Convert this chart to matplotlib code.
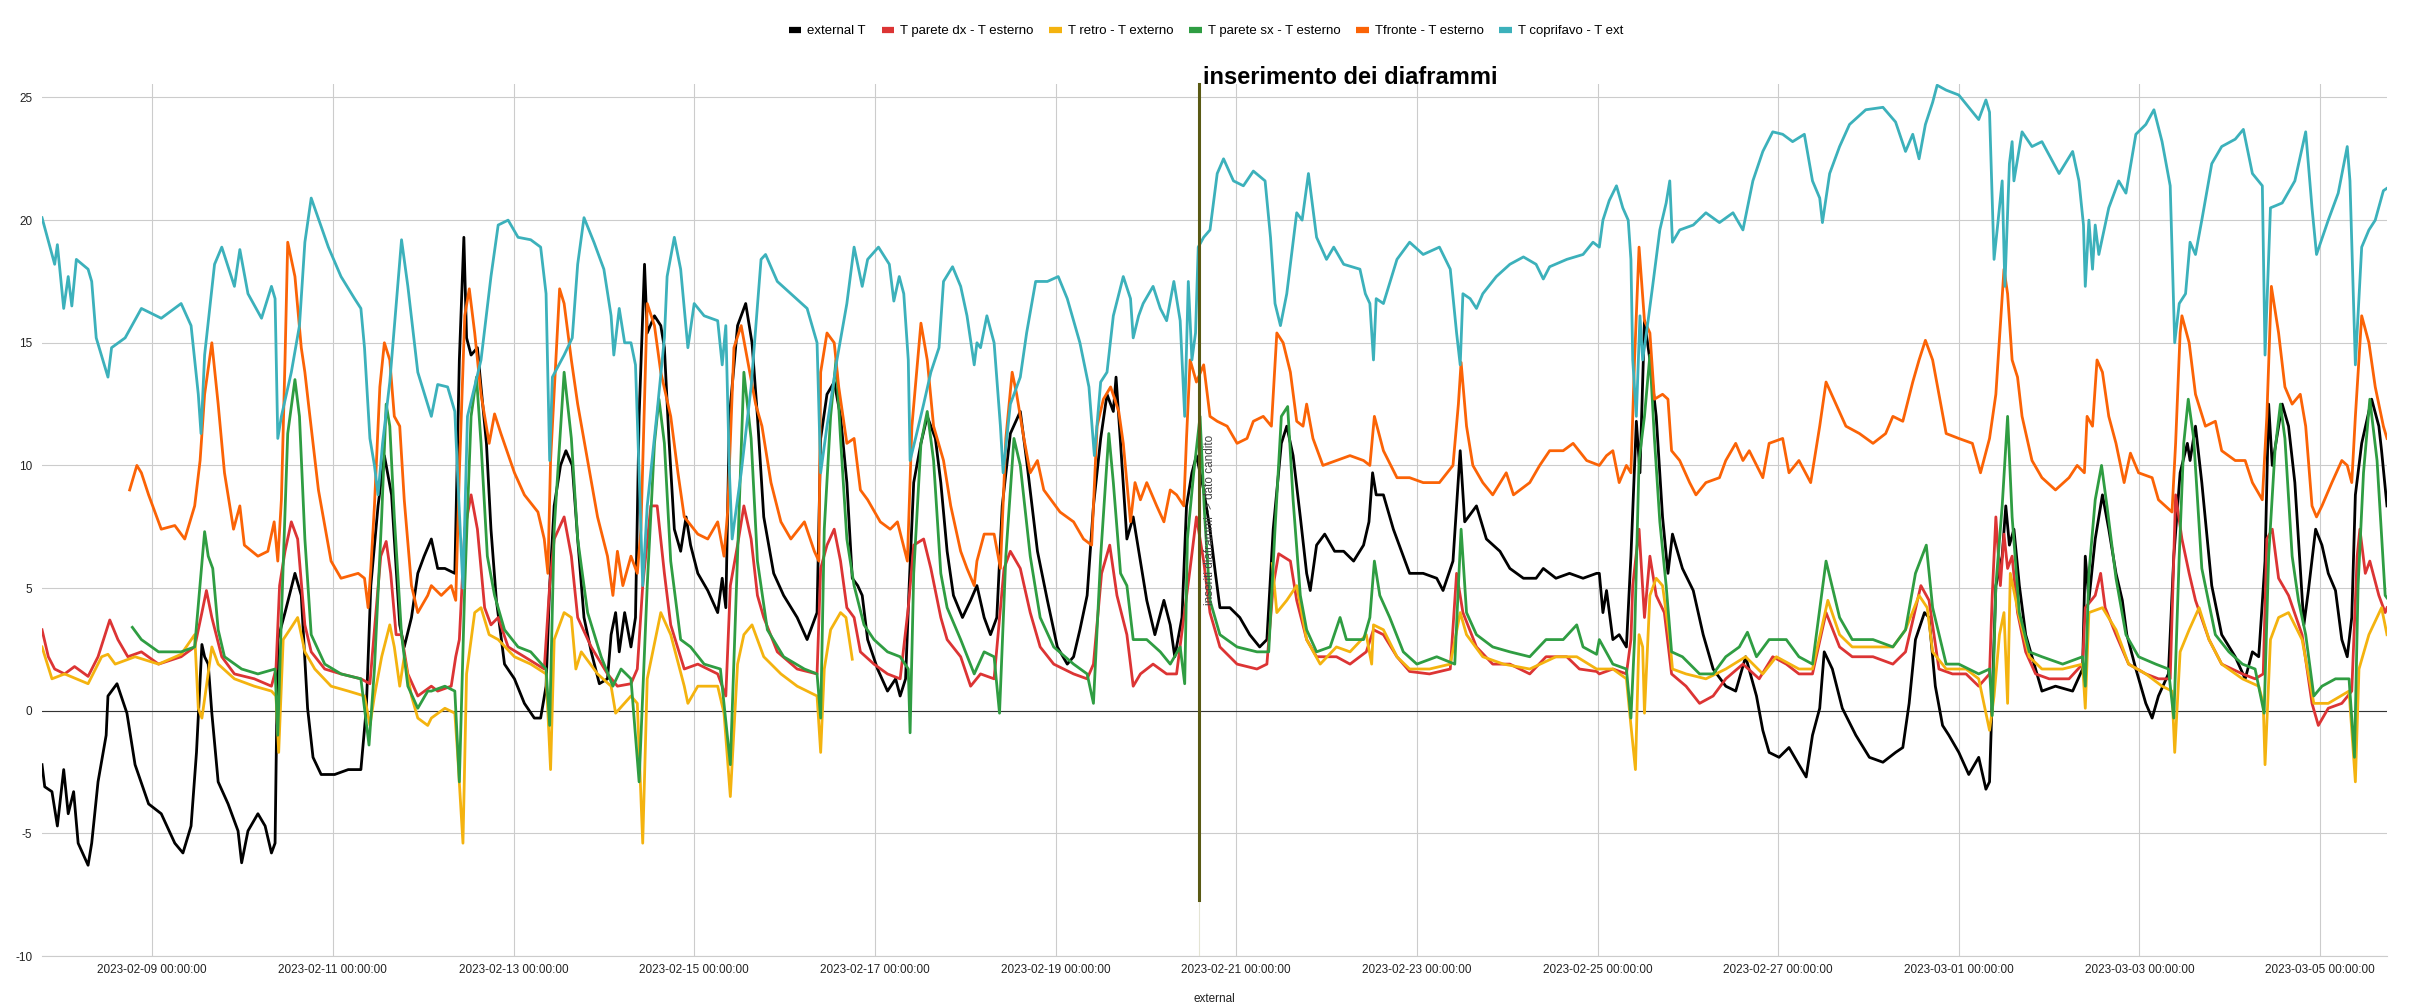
import numpy as np
import matplotlib
matplotlib.use('Agg')
import matplotlib.pyplot as plt
import matplotlib.dates as mdates
from matplotlib.lines import Line2D

plt.rcParams['font.family'] = ['Liberation Sans', 'DejaVu Sans']
plt.rcParams['axes.unicode_minus'] = False

# time is in days counted from 2023-02-09 00:00
start = np.datetime64('2023-02-09T00:00:00')

# external T
ext_t = [-1.22,-1.19,-1.11,-1.05,-0.98,-0.93,-0.87,-0.82,-0.71,-0.67,-0.60,-0.51,-0.49,-0.39,-0.28,-0.19,-0.04,0.10,0.25,0.34,0.43,0.49,0.55,0.58,0.62,0.66,0.73,0.84,0.95,0.99,1.06,1.17,1.25,1.32,1.36,1.39,1.47,1.58,1.65,1.72,1.78,1.87,2.02,2.17,2.31,2.37,2.42,2.50,2.57,2.65,2.68,2.74,2.79,2.87,2.94,3.01,
         3.09,3.16,3.24,3.35,3.40,3.45,3.48,3.53,3.60,3.64,3.70,3.75,3.81,3.90,4.01,4.12,4.23,4.30,4.36,4.40,4.45,4.52,4.58,4.65,4.71,4.78,4.86,4.95,5.04,5.08,5.13,5.17,5.23,5.30,5.35,5.39,5.45,5.48,5.56,5.63,5.67,5.72,5.78,5.85,5.91,5.96,6.04,6.15,6.26,6.31,6.35,6.39,6.48,6.57,6.64,6.70,6.77,6.88,6.99,7.14,7.25,7.36,
         7.40,7.47,7.55,7.62,7.69,7.75,7.81,7.86,7.92,8.03,8.14,8.23,8.28,8.34,8.38,8.43,8.51,8.58,8.67,8.73,8.80,8.87,8.97,9.06,9.13,9.21,9.28,9.35,9.41,9.50,9.61,9.68,9.80,9.91,10.02,10.13,10.20,10.27,10.35,10.42,10.50,10.57,10.64,10.67,10.72,10.79,10.86,10.94,11.01,11.10,11.20,11.27,11.32,11.40,11.45,11.51,11.56,11.64,
         11.71,11.77,11.82,11.93,12.04,12.15,12.26,12.34,12.41,12.50,12.56,12.63,12.71,12.78,12.82,12.89,12.98,13.09,13.19,13.30,13.41,13.47,13.51,13.55,13.63,13.74,13.85,13.92,14.07,14.22,14.29,14.40,14.48,14.53,14.66,14.77,14.92,15.03,15.18,15.32,15.40,15.54,15.69,15.84,15.99,
         16.02,16.06,16.10,16.17,16.24,16.32,16.37,16.43,16.47,16.52,16.58,16.65,16.72,16.78,16.83,16.94,17.06,17.17,17.28,17.42,17.53,17.64,17.76,17.83,17.90,18.01,18.12,18.23,18.31,18.38,18.46,18.51,18.60,18.71,18.86,19.01,19.16,19.30,19.38,19.45,19.52,19.62,19.67,19.74,19.82,19.89,20.00,20.11,20.22,20.30,
         20.34,20.37,20.41,20.48,20.52,20.56,20.61,20.67,20.74,20.85,20.92,21.07,21.26,21.37,21.40,21.44,21.51,21.59,21.66,21.74,21.81,21.86,21.96,22.07,22.14,22.21,22.32,22.38,22.45,22.53,22.56,22.62,22.69,22.80,22.91,23.06,23.17,23.25,23.32,23.39,23.43,23.47,23.54,23.58,23.65,23.72,23.82,23.87,23.95,24.02,24.09,24.17,24.24,24.30,24.35,24.39,24.46,24.57,24.65,24.68,24.74]
ext_v = [-2.2,-3.1,-3.3,-4.7,-2.4,-4.2,-3.3,-5.4,-6.3,-5.4,-2.9,-1.0,0.6,1.1,-0.1,-2.2,-3.8,-4.2,-5.4,-5.8,-4.7,-1.7,2.7,2.2,1.9,-0.1,-2.9,-3.8,-4.9,-6.2,-4.9,-4.2,-4.7,-5.8,-5.4,2.9,4.0,5.6,4.7,0.1,-1.9,-2.6,-2.6,-2.4,-2.4,0.1,5.1,8.35,10.4,8.8,7.0,3.5,2.6,3.8,5.6,6.3,
         7.0,5.8,5.8,5.6,14.3,19.3,15.2,14.5,14.8,13.2,10.9,7.4,4.5,1.9,1.3,0.3,-0.3,-0.3,1.0,5.1,8.35,10.0,10.6,10.0,7.0,3.8,2.4,1.1,1.3,3.1,4.0,2.4,4.0,2.6,3.8,12.0,18.2,15.4,16.1,15.7,14.8,11.1,7.4,6.5,7.9,6.75,5.6,4.9,4.0,5.4,4.2,12.0,15.7,16.6,15.0,12.0,7.9,5.6,4.7,3.8,2.9,4.0,
         11.1,12.9,13.4,12.0,9.3,5.4,5.1,4.7,2.9,1.7,0.8,1.3,0.6,1.3,5.1,9.3,10.9,12.0,11.1,9.3,6.5,4.7,3.8,4.5,5.1,3.8,3.1,3.8,8.35,11.3,12.2,10.2,6.5,4.5,2.6,1.9,2.2,3.3,4.7,8.35,11.1,12.9,12.2,13.6,10.9,7.0,7.9,6.1,4.5,3.1,4.5,3.5,2.2,3.8,8.35,9.7,10.4,9.0,
         7.4,5.6,4.2,4.2,3.8,3.1,2.6,2.9,7.4,10.9,11.6,10.4,7.9,5.6,4.9,6.75,7.2,6.5,6.5,6.1,6.75,7.7,9.7,8.8,8.8,7.4,6.3,5.6,5.6,5.4,4.9,6.1,10.6,7.7,8.35,7.0,6.5,5.8,5.4,5.4,5.8,5.4,5.6,5.4,5.6,
         5.6,4.0,4.9,2.9,3.1,2.6,6.3,11.8,9.7,15.9,14.3,12.0,7.9,5.6,7.2,5.8,4.9,3.1,1.7,1.0,0.8,2.2,0.6,-0.8,-1.7,-1.9,-1.5,-2.2,-2.7,-1.0,0.1,2.4,1.7,0.1,-1.0,-1.9,-2.1,-1.7,-1.5,0.3,2.9,4.0,3.8,1.0,-0.6,-1.0,-1.7,-2.6,-1.9,-3.2,
         -2.9,0.6,5.1,6.3,8.35,6.75,7.4,5.1,3.1,1.7,0.8,1.0,0.8,1.7,6.3,4.5,7.0,8.8,7.4,5.6,4.5,3.1,1.7,0.3,-0.3,0.6,1.5,6.3,9.7,10.9,10.2,11.6,9.3,5.1,3.1,2.2,1.3,2.4,2.2,6.1,12.5,10.0,11.6,12.5,11.6,9.3,3.5,4.9,7.4,6.75,5.6,4.9,2.9,2.2,3.8,8.8,10.9,12.7,11.6,10.6,8.35]

# T parete dx - T esterno
dx_t = [-1.22,-1.15,-1.08,-0.97,-0.86,-0.71,-0.60,-0.47,-0.38,-0.27,-0.12,0.07,0.32,0.47,0.55,0.60,0.66,0.77,0.91,1.13,1.32,1.37,1.41,1.47,1.54,1.61,1.69,1.76,1.91,2.09,2.31,2.41,2.46,2.53,2.59,2.64,2.70,2.76,2.83,2.94,
        3.09,3.16,3.31,3.36,3.40,3.46,3.53,3.60,3.68,3.75,3.83,3.94,4.12,4.34,4.40,4.45,4.56,4.64,4.71,4.86,5.04,5.15,5.30,5.37,5.43,5.52,5.59,5.67,5.74,5.89,6.04,6.26,6.35,6.40,6.48,6.55,6.63,6.70,6.77,6.92,7.14,7.36,
        7.40,7.47,7.55,7.62,7.69,7.77,7.84,7.99,8.14,8.28,8.37,8.43,8.54,8.62,8.73,8.80,8.95,9.06,9.17,9.32,9.43,9.50,9.61,9.72,9.83,9.98,10.20,10.35,10.42,10.51,10.60,10.68,10.79,10.86,10.94,11.08,11.23,11.34,11.42,11.49,11.56,11.64,
        11.71,11.82,12.01,12.23,12.34,12.41,12.47,12.60,12.67,12.78,12.89,13.11,13.26,13.44,13.52,13.63,13.78,13.92,14.14,14.37,14.44,14.51,14.66,14.84,15.03,15.25,15.43,15.66,15.80,15.99,
        16.02,16.17,16.32,16.37,16.39,16.46,16.52,16.58,16.65,16.74,16.82,16.98,17.13,17.28,17.42,17.61,17.79,17.94,18.09,18.23,18.38,18.53,18.68,18.82,19.05,19.27,19.41,19.58,19.67,19.78,19.93,20.08,20.22,
        20.34,20.37,20.41,20.46,20.50,20.54,20.59,20.65,20.74,20.85,21.00,21.22,21.37,21.40,21.51,21.57,21.62,21.74,21.88,22.07,22.21,22.34,22.40,22.47,22.55,22.62,22.77,22.91,23.14,23.28,23.37,23.41,23.47,23.54,23.65,23.80,23.91,23.98,24.09,24.24,24.35,24.41,24.44,24.50,24.55,24.65,24.72,24.74]
dx_v = [3.3,2.2,1.7,1.5,1.8,1.4,2.2,3.7,2.9,2.2,2.4,1.9,2.2,2.6,4.0,4.9,3.8,2.2,1.5,1.3,1.0,1.7,5.1,6.5,7.7,7.0,3.5,2.4,1.7,1.5,1.3,1.1,3.3,6.3,6.9,5.6,3.1,3.1,1.5,0.6,
        1.0,0.8,1.0,2.2,2.9,7.4,8.8,7.4,4.2,3.5,3.8,2.6,2.2,1.7,5.1,7.0,7.9,6.3,3.8,2.6,1.5,1.0,1.1,1.7,5.1,8.35,8.35,5.6,3.5,1.7,1.9,1.5,0.6,5.1,6.75,8.35,7.0,4.7,3.8,2.4,1.7,1.5,
        5.8,6.75,7.4,6.1,4.2,3.8,2.4,1.9,1.5,1.3,4.2,6.75,7.0,5.8,3.8,2.9,2.2,1.0,1.5,1.3,5.8,6.5,5.8,4.0,2.6,1.9,1.5,1.3,1.9,5.6,6.75,4.7,3.1,1.0,1.5,1.9,1.5,1.5,3.8,5.8,7.9,6.1,
        4.0,2.6,1.9,1.7,1.9,5.1,6.4,6.1,4.5,2.9,2.2,2.2,1.9,2.4,3.3,3.1,2.2,1.6,1.5,1.7,5.6,4.0,2.6,1.9,1.9,1.5,2.2,2.2,1.7,1.6,
        1.5,1.7,1.5,2.9,5.1,7.4,3.8,6.3,4.7,4.0,1.5,1.0,0.3,0.6,1.3,1.9,1.3,2.2,1.9,1.5,1.5,4.0,2.6,2.2,2.2,1.9,2.4,5.1,4.5,1.7,1.5,1.5,1.0,
        1.5,4.7,7.9,5.1,7.2,5.8,6.3,4.0,2.4,1.5,1.3,1.3,1.9,4.2,4.7,5.6,4.2,3.1,1.9,1.5,1.3,1.3,8.8,7.0,5.6,4.5,2.9,1.9,1.5,1.3,1.5,7.0,7.4,5.4,4.7,3.1,0.3,-0.6,0.1,0.3,0.8,6.3,7.4,5.6,6.1,4.7,4.0,4.2]

# T retro - T externo (no data between 02-16 and 02-21)
retro_t = [-1.22,-1.11,-0.97,-0.71,-0.56,-0.49,-0.41,-0.19,0.07,0.32,0.47,0.51,0.55,0.60,0.66,0.73,0.91,1.13,1.32,1.37,1.40,1.45,1.54,1.61,1.69,1.80,1.98,2.17,2.35,2.41,2.46,2.54,2.63,2.68,2.74,2.79,2.87,2.94,3.05,
           3.09,3.24,3.35,3.38,3.44,3.48,3.57,3.64,3.73,3.83,4.01,4.19,4.36,4.41,4.45,4.56,4.64,4.69,4.75,4.93,5.08,5.13,5.30,5.37,5.43,5.48,5.63,5.74,5.89,5.93,6.04,6.26,6.33,6.40,6.48,6.55,6.64,6.77,6.96,7.14,7.36,
           7.40,7.44,7.51,7.62,7.68,7.75,10.0,
           12.40,12.45,12.56,12.67,12.78,12.93,13.11,13.26,13.44,13.50,13.52,13.63,13.78,13.92,14.14,14.37,14.48,14.55,14.73,14.96,15.25,15.54,15.77,15.99,
           16.02,16.17,16.32,16.37,16.42,16.46,16.50,16.52,16.58,16.65,16.72,16.80,16.83,16.98,17.20,17.42,17.64,17.83,17.98,18.23,18.38,18.55,18.68,18.82,19.05,19.27,19.41,19.56,19.65,19.71,19.86,20.08,20.22,
           20.34,20.39,20.45,20.50,20.54,20.57,20.67,20.78,20.92,21.15,21.37,21.40,21.44,21.59,21.74,21.88,22.07,22.25,22.36,22.39,22.45,22.55,22.66,22.77,22.91,23.14,23.32,23.37,23.39,23.45,23.54,23.65,23.80,23.93,24.09,24.32,24.39,24.43,24.54,24.68,24.74]
retro_v = [2.6,1.3,1.5,1.1,2.2,2.3,1.9,2.2,1.9,2.3,3.1,0.1,-0.3,1.0,2.6,1.9,1.3,1.0,0.8,0.6,-1.7,2.9,3.4,3.8,2.4,1.7,1.0,0.8,0.6,-0.6,0.6,2.2,3.5,2.6,1.0,2.2,0.6,-0.3,-0.6,
           -0.3,0.1,-0.1,-1.7,-5.4,1.5,4.0,4.2,3.1,2.9,2.2,1.9,1.5,-2.4,2.9,4.0,3.8,1.7,2.4,1.5,1.0,-0.1,0.6,0.3,-5.4,1.3,4.0,3.1,1.0,0.3,1.0,1.0,-0.1,-3.5,1.9,3.1,3.5,2.2,1.5,1.0,0.6,
           -1.7,1.7,3.3,4.0,3.8,2.1,np.nan,
           6.0,4.0,4.5,5.1,2.9,1.9,2.6,2.4,3.1,1.9,3.5,3.3,2.2,1.7,1.7,1.9,4.0,3.1,2.2,1.9,1.7,2.2,2.2,1.7,
           1.7,1.7,1.3,-0.6,-2.4,3.1,2.6,-0.1,4.7,5.4,5.1,2.9,1.7,1.5,1.3,1.7,2.2,1.5,2.2,1.7,1.7,4.5,3.1,2.6,2.6,2.6,3.3,4.7,4.2,2.4,1.7,1.7,1.3,
           -0.8,0.6,3.1,4.0,0.3,5.6,3.8,2.2,1.7,1.7,1.9,0.1,4.0,4.2,3.3,1.9,1.5,1.0,0.8,-1.7,2.4,3.3,4.2,2.9,1.9,1.3,1.0,0.3,-2.2,2.9,3.8,4.0,2.9,0.3,0.3,0.8,-2.9,1.7,3.1,4.2,3.1]

# T parete sx - T esterno
sx_t = [-0.22,-0.12,0.07,0.32,0.47,0.54,0.58,0.62,0.67,0.73,0.80,0.99,1.17,1.36,1.39,1.43,1.50,1.58,1.63,1.69,1.76,1.91,2.09,2.31,2.40,2.46,2.54,2.59,2.63,2.68,2.76,2.83,2.94,3.05,
        3.09,3.24,3.35,3.40,3.46,3.53,3.59,3.64,3.71,3.79,3.90,4.05,4.19,4.36,4.40,4.45,4.56,4.64,4.71,4.82,4.97,5.10,5.19,5.30,5.39,5.48,5.56,5.61,5.67,5.74,5.85,5.96,6.11,6.29,6.40,6.48,6.55,6.63,6.70,6.81,6.99,7.22,7.36,
        7.40,7.44,7.51,7.57,7.62,7.69,7.77,7.88,7.99,8.14,8.28,8.37,8.39,8.43,8.51,8.58,8.65,8.73,8.80,8.95,9.10,9.21,9.32,9.38,9.45,9.54,9.61,9.72,9.83,9.98,10.20,10.35,10.42,10.50,10.59,10.64,10.72,10.79,10.86,11.01,11.16,11.27,11.38,11.43,11.46,11.53,11.60,11.65,
        11.71,11.82,12.01,12.23,12.36,12.43,12.50,12.57,12.63,12.71,12.78,12.89,13.04,13.15,13.22,13.41,13.48,13.53,13.59,13.70,13.85,14.00,14.22,14.42,14.46,14.49,14.55,14.66,14.84,15.03,15.25,15.43,15.62,15.77,15.84,15.99,
        16.02,16.17,16.32,16.37,16.41,16.46,16.52,16.58,16.63,16.69,16.76,16.82,16.94,17.13,17.28,17.42,17.57,17.66,17.76,17.90,18.09,18.23,18.38,18.53,18.68,18.82,19.05,19.27,19.41,19.52,19.64,19.71,19.86,20.00,20.22,
        20.34,20.37,20.41,20.48,20.54,20.59,20.67,20.78,20.92,21.15,21.37,21.40,21.44,21.51,21.58,21.64,21.74,21.85,21.99,22.18,22.32,22.38,22.44,22.49,22.54,22.60,22.69,22.84,22.99,23.14,23.28,23.38,23.43,23.50,23.56,23.61,23.69,23.76,23.84,23.93,24.02,24.17,24.32,24.38,24.42,24.48,24.55,24.63,24.72,24.74]
sx_v = [3.4,2.9,2.4,2.4,2.6,5.6,7.3,6.3,5.8,3.3,2.2,1.7,1.5,1.7,-1.0,3.8,11.3,13.5,12.0,7.0,3.1,1.9,1.5,1.3,-1.4,1.7,7.9,12.5,11.6,7.9,3.1,1.0,0.1,0.8,
        0.8,1.0,0.8,-2.9,5.1,12.0,13.6,10.9,6.3,4.7,3.3,2.6,2.4,1.7,-0.6,7.4,13.8,11.1,7.0,4.0,2.2,1.0,1.7,1.3,-2.9,5.1,10.9,12.7,10.9,6.1,2.9,2.6,1.9,1.7,-2.2,6.3,13.8,11.1,6.1,3.3,2.2,1.7,1.5,
        -0.3,7.4,12.0,14.3,11.1,7.0,5.1,3.5,2.9,2.4,2.2,1.7,-0.9,5.6,10.9,12.2,10.2,5.6,4.2,2.9,1.5,2.4,2.2,-0.1,6.3,11.1,10.0,6.3,3.8,2.6,1.9,1.5,0.3,6.3,11.3,9.3,5.6,5.1,2.9,2.9,2.4,1.9,2.6,1.1,7.0,9.7,12.0,8.0,
        4.5,3.1,2.6,2.4,2.4,7.4,12.0,12.4,8.6,4.7,3.3,2.4,2.6,3.8,2.9,2.9,3.8,6.1,4.7,3.8,2.4,1.9,2.2,1.9,5.1,7.4,4.0,3.1,2.6,2.4,2.2,2.9,2.9,3.5,2.6,2.3,
        2.9,1.9,1.7,-0.3,2.9,10.2,12.0,14.5,11.1,7.7,5.1,2.4,2.2,1.5,1.5,2.2,2.6,3.2,2.2,2.9,2.9,2.2,1.9,6.1,3.8,2.9,2.9,2.6,3.3,5.6,6.75,4.2,1.9,1.9,1.5,
        1.7,-0.2,5.1,8.35,12.0,7.9,4.0,2.4,2.2,1.9,2.2,1.0,5.6,8.6,10.0,8.35,5.4,3.1,2.2,1.9,1.7,-0.3,6.3,10.9,12.7,11.1,5.8,3.1,2.4,1.9,1.7,-0.1,6.3,10.6,12.5,11.1,6.3,4.5,3.1,0.6,1.0,1.3,1.3,-1.9,5.1,9.7,12.7,10.2,4.7,4.6]

# Tfronte - T esterno
fronte_t = [-0.25,-0.17,-0.12,-0.04,0.10,0.25,0.36,0.47,0.53,0.58,0.66,0.73,0.80,0.90,0.97,1.02,1.17,1.28,1.35,1.39,1.43,1.47,1.50,1.58,1.65,1.69,1.73,1.84,1.98,2.09,2.28,2.35,2.39,2.42,2.46,2.52,2.57,2.63,2.68,2.74,2.79,2.87,2.94,3.05,
            3.09,3.20,3.31,3.36,3.40,3.46,3.51,3.57,3.64,3.73,3.79,3.86,4.01,4.12,4.27,4.34,4.38,4.41,4.51,4.56,4.64,4.71,4.82,4.93,5.04,5.10,5.15,5.21,5.30,5.37,5.41,5.48,5.56,5.63,5.74,5.82,5.89,6.04,6.15,6.26,6.33,6.37,6.44,6.52,6.59,6.68,6.75,6.85,6.96,7.07,7.22,7.33,7.38,
            7.40,7.47,7.55,7.60,7.69,7.77,7.84,7.92,8.06,8.17,8.25,8.36,8.41,8.51,8.58,8.65,8.76,8.84,8.95,9.02,9.10,9.13,9.21,9.32,9.39,9.45,9.52,9.57,9.65,9.72,9.80,9.87,10.05,10.20,10.31,10.40,10.46,10.53,10.61,10.70,10.75,10.83,10.88,10.94,11.01,11.12,11.20,11.27,11.34,11.42,11.45,11.49,11.56,11.64,
            11.71,11.79,11.90,12.01,12.12,12.19,12.30,12.39,12.45,12.52,12.60,12.67,12.74,12.78,12.85,12.96,13.11,13.26,13.41,13.48,13.53,13.63,13.78,13.92,14.07,14.25,14.40,14.46,14.49,14.55,14.62,14.73,14.84,14.99,15.07,15.25,15.36,15.47,15.62,15.73,15.88,
            16.02,16.10,16.17,16.24,16.32,16.37,16.41,16.46,16.52,16.58,16.63,16.72,16.78,16.82,16.91,17.02,17.09,17.20,17.35,17.42,17.53,17.61,17.68,17.83,17.90,18.05,18.12,18.23,18.36,18.46,18.53,18.64,18.75,18.90,19.05,19.19,19.27,19.38,19.49,19.56,19.63,19.71,19.78,19.86,20.00,20.15,20.24,
            20.34,20.41,20.50,20.54,20.59,20.65,20.70,20.81,20.92,21.07,21.22,21.31,21.39,21.42,21.48,21.53,21.59,21.66,21.74,21.83,21.90,21.99,22.14,22.21,22.36,22.40,22.45,22.47,22.55,22.62,22.73,22.84,22.91,23.06,23.17,23.25,23.36,23.41,23.46,23.54,23.61,23.69,23.78,23.84,23.91,23.96,24.02,24.13,24.24,24.30,24.35,24.39,24.46,24.54,24.61,24.70,24.74]
fronte_v = [9.0,10.0,9.7,8.8,7.4,7.55,7.0,8.35,10.2,12.9,15.0,12.5,9.7,7.4,8.35,6.75,6.3,6.5,7.7,6.1,8.6,14.3,19.1,17.7,14.8,13.8,12.5,9.0,6.1,5.4,5.6,5.4,4.2,5.8,8.35,13.2,15.0,14.3,12.0,11.6,8.6,5.1,4.0,4.7,
            5.1,4.7,5.1,4.5,9.7,16.1,17.2,15.4,12.9,10.9,12.1,11.3,9.7,8.8,8.1,7.0,5.6,10.2,17.2,16.6,14.3,12.5,10.2,7.9,6.3,4.7,6.5,5.1,6.3,5.6,7.4,16.6,15.7,13.8,12.0,9.7,7.9,7.2,7.0,7.7,6.3,8.1,14.8,15.7,14.3,12.5,11.6,9.3,7.7,7.0,7.7,6.5,6.1,
            13.8,15.4,15.0,13.2,10.9,11.1,9.0,8.6,7.7,7.4,7.7,6.1,11.6,15.8,14.3,11.6,10.2,8.35,6.5,5.8,5.1,6.1,7.2,7.2,5.8,11.1,13.8,12.9,11.1,9.7,10.2,9.0,8.1,7.7,7.0,6.75,11.6,12.7,13.2,12.2,10.9,7.7,9.3,8.6,9.3,8.35,7.7,9.0,8.8,8.35,11.1,14.3,13.4,14.1,
            12.0,11.8,11.6,10.9,11.1,11.8,12.0,11.6,15.4,15.0,13.8,11.8,11.6,12.5,11.1,10.0,10.2,10.4,10.2,10.0,12.0,10.6,9.5,9.5,9.3,9.3,10.0,12.5,14.2,11.6,10.0,9.3,8.8,9.7,8.8,9.3,10.0,10.6,10.6,10.9,10.2,
            10.0,10.4,10.6,9.3,10.0,9.7,14.3,18.9,15.9,15.4,12.7,12.9,12.7,10.6,10.2,9.3,8.8,9.3,9.5,10.2,10.9,10.2,10.6,9.5,10.9,11.1,9.7,10.2,9.3,11.6,13.4,12.5,11.6,11.3,10.9,11.3,12.0,11.8,13.4,14.3,15.1,14.3,12.9,11.3,11.1,10.9,9.7,
            11.1,12.9,18.0,17.0,14.3,13.6,12.0,10.2,9.5,9.0,9.5,10.0,9.7,12.0,11.6,14.3,13.8,12.0,10.9,9.3,10.5,9.7,9.5,8.6,8.1,10.9,15.4,16.1,15.0,12.9,11.6,11.8,10.6,10.2,10.2,9.3,8.6,12.0,17.3,15.4,13.2,12.5,12.9,11.6,8.35,7.9,8.35,9.3,10.2,10.0,9.3,12.0,16.1,15.0,13.2,11.6,11.1]

# T coprifavo - T ext
copri_t = [-1.22,-1.08,-1.05,-0.98,-0.93,-0.89,-0.84,-0.71,-0.67,-0.62,-0.49,-0.45,-0.30,-0.12,0.10,0.32,0.43,0.51,0.54,0.58,0.69,0.77,0.91,0.97,1.06,1.21,1.32,1.36,1.39,1.43,1.54,1.63,1.69,1.76,1.95,2.09,2.24,2.31,2.35,2.41,2.46,2.50,2.55,2.63,2.76,2.83,2.94,
           3.09,3.16,3.27,3.35,3.38,3.44,3.49,3.64,3.75,3.83,3.94,4.05,4.19,4.30,4.36,4.40,4.43,4.56,4.65,4.71,4.78,4.89,5.00,5.08,5.11,5.17,5.23,5.30,5.35,5.39,5.43,5.48,5.59,5.67,5.70,5.78,5.85,5.93,6.00,6.11,6.26,6.31,6.35,6.39,6.42,6.52,6.63,6.74,6.79,6.92,7.07,7.25,7.36,
           7.40,7.47,7.58,7.69,7.77,7.86,7.92,8.04,8.16,8.21,8.27,8.32,8.37,8.39,8.45,8.54,8.62,8.71,8.76,8.86,8.95,9.02,9.10,9.13,9.17,9.24,9.32,9.39,9.42,9.50,9.61,9.68,9.78,9.91,10.03,10.13,10.27,10.37,10.43,10.50,10.57,10.64,10.75,10.83,10.86,10.92,10.97,11.08,11.16,11.23,11.31,11.38,11.43,11.47,11.51,11.55,11.58,11.64,
           11.71,11.79,11.86,11.97,12.08,12.19,12.32,12.38,12.43,12.49,12.56,12.67,12.73,12.80,12.89,13.00,13.08,13.19,13.37,13.43,13.48,13.52,13.55,13.63,13.78,13.92,14.07,14.25,14.37,14.44,14.48,14.51,14.59,14.66,14.73,14.88,15.03,15.18,15.32,15.40,15.47,15.66,15.84,15.95,
           16.02,16.06,16.13,16.21,16.28,16.34,16.37,16.39,16.43,16.47,16.50,16.56,16.61,16.69,16.76,16.80,16.83,16.91,17.06,17.20,17.35,17.50,17.61,17.72,17.83,17.94,18.05,18.16,18.29,18.38,18.46,18.49,18.57,18.68,18.79,18.97,19.16,19.30,19.41,19.49,19.56,19.63,19.71,19.76,19.86,20.00,20.11,20.22,20.30,
           20.34,20.39,20.43,20.48,20.51,20.56,20.59,20.61,20.70,20.81,20.92,21.11,21.26,21.33,21.38,21.40,21.44,21.48,21.51,21.55,21.66,21.77,21.85,21.96,22.07,22.16,22.25,22.34,22.36,22.39,22.44,22.51,22.56,22.62,22.69,22.80,22.91,23.06,23.15,23.25,23.36,23.39,23.45,23.58,23.72,23.84,23.91,23.96,24.09,24.20,24.30,24.33,24.39,24.46,24.54,24.61,24.70,24.74]
copri_v = [20.1,18.2,19.0,16.4,17.7,16.5,18.4,18.0,17.5,15.2,13.6,14.8,15.2,16.4,16.0,16.6,15.7,12.9,11.3,14.5,18.2,18.9,17.3,18.8,17.0,16.0,17.3,16.8,11.1,12.0,13.8,15.7,19.1,20.9,18.9,17.7,16.8,16.4,14.8,11.1,10.0,8.8,10.9,13.4,19.2,17.3,13.8,
           12.0,13.3,13.2,12.2,9.7,5.0,12.0,14.3,17.7,19.8,20.0,19.3,19.2,18.9,17.0,10.2,13.6,14.5,15.2,18.2,20.1,19.1,18.0,16.1,14.5,16.4,15.0,15.0,14.1,9.7,5.1,8.35,12.2,15.2,17.7,19.3,18.0,14.8,16.6,16.1,15.9,14.1,15.7,9.7,7.0,9.7,13.2,18.4,18.6,17.5,17.0,16.4,15.0,
           9.7,11.6,14.3,16.6,18.9,17.3,18.4,18.9,18.2,16.7,17.7,17.0,14.3,10.2,11.1,12.5,13.8,14.8,17.5,18.1,17.3,16.1,14.1,15.0,14.8,16.1,15.0,11.6,9.7,12.5,13.6,15.4,17.5,17.5,17.7,16.8,15.0,13.2,10.4,13.4,13.8,16.1,17.7,16.8,15.2,16.1,16.6,17.3,16.4,15.9,17.5,15.9,12.0,17.5,14.3,15.4,18.9,19.3,
           19.6,21.9,22.5,21.6,21.4,22.0,21.6,19.3,16.6,15.7,17.0,20.3,20.0,21.9,19.3,18.4,18.9,18.2,18.0,17.0,16.6,14.3,16.8,16.6,18.4,19.1,18.6,18.9,18.0,15.4,14.1,17.0,16.8,16.4,17.0,17.7,18.2,18.5,18.2,17.6,18.1,18.4,18.6,19.1,
           18.9,20.0,20.8,21.4,20.5,20.0,18.4,14.3,12.0,16.1,14.3,15.9,17.3,19.6,20.7,21.6,19.1,19.6,19.8,20.3,19.9,20.3,19.6,21.6,22.8,23.6,23.5,23.2,23.5,21.6,20.9,19.9,21.9,23.0,23.9,24.5,24.6,24.0,22.8,23.5,22.5,23.9,24.8,25.5,25.3,25.1,24.6,24.1,24.9,
           24.4,18.4,19.8,21.6,17.3,22.3,23.2,21.6,23.6,23.0,23.2,21.9,22.8,21.6,19.8,17.3,20.0,18.0,19.8,18.6,20.5,21.6,21.1,23.5,23.9,24.5,23.2,21.4,18.9,15.0,16.6,17.0,19.1,18.6,20.0,22.3,23.0,23.3,23.7,21.9,21.4,14.5,20.5,20.7,21.6,23.6,20.5,18.6,20.0,21.1,23.0,21.6,14.1,18.9,19.6,20.0,21.2,21.3]

series = [
    ('external T', ext_t, ext_v, '#000000'),
    ('T parete dx - T esterno', dx_t, dx_v, '#dc3434'),
    ('T retro - T externo', retro_t, retro_v, '#f4b30f'),
    ('T parete sx - T esterno', sx_t, sx_v, '#2f9d42'),
    ('Tfronte - T esterno', fronte_t, fronte_v, '#fb6306'),
    ('T coprifavo - T ext', copri_t, copri_v, '#3cb1bb'),
]

# when the diaphragms were put in
event_t = 11.59
event_low = -7.7


def to_dates(days):
    secs = np.round(np.array(days) * 86400).astype('int64')
    return start + secs.astype('timedelta64[s]')


fig = plt.figure(figsize=(24.15, 10.06), dpi=100)
ax = fig.add_axes([0.0174, 0.0497, 0.971, 0.8668])

for name, t, v, col in series:
    ax.plot(to_dates(t), np.array(v, dtype=float), color=col, lw=2.0, label=name, zorder=3)

ax.set_ylim(-10, 25.55)
ax.set_xlim(to_dates([-1.22])[0], to_dates([24.74])[0])

# grid and axes look
ax.set_yticks(np.arange(-10, 26, 5))
ax.set_xticks(to_dates(np.arange(0, 25, 2)))
ax.xaxis.set_major_formatter(mdates.DateFormatter('%Y-%m-%d %H:%M:%S'))
ax.grid(True, color='#cccccc', lw=0.8)
ax.set_axisbelow(True)
ax.axhline(0, color='#333333', lw=0.8, zorder=2)
for s in ['top', 'right', 'left']:
    ax.spines[s].set_visible(False)
ax.spines['bottom'].set_color('#cccccc')
ax.tick_params(axis='both', length=0, labelsize=8.5, labelcolor='#222222')
ax.tick_params(axis='x', pad=6)
ax.tick_params(axis='y', pad=7)
ax.set_xlabel('external', fontsize=8.5, color='#222222', labelpad=12)

# event line with its labels
ev = to_dates([event_t])[0]
ax.plot([ev, ev], [-10, event_low], color='#e4e4d4', lw=0.8, zorder=4)
ax.plot([ev, ev], [event_low, 25.55], color='#5a5a14', lw=2.2, zorder=5, clip_on=False)
ax.annotate('inserimento dei diaframmi', xy=(ev, 25.55), xytext=(3, 0), textcoords='offset points',
            ha='left', va='baseline', fontsize=17, fontweight='bold', color='#000000', annotation_clip=False)
ax.annotate('inseriti diaframmi -> dato candito', xy=(ev, 7.77), xytext=(3.5, 0), textcoords='offset points',
            ha='left', va='center', rotation=90, fontsize=8.5, color='#444444', zorder=6)

# legend with small colour blocks
handles = [Line2D([0], [0], color=col, lw=4.5, solid_capstyle='butt') for _, _, _, col in series]
labels = [name for name, _, _, _ in series]
fig.legend(handles, labels, loc='center', bbox_to_anchor=(0.4994, 0.969), ncol=6, frameon=False,
           fontsize=9.5, handlelength=0.95, handletextpad=0.45, columnspacing=1.2)

fig.savefig('out.png', dpi=100)
